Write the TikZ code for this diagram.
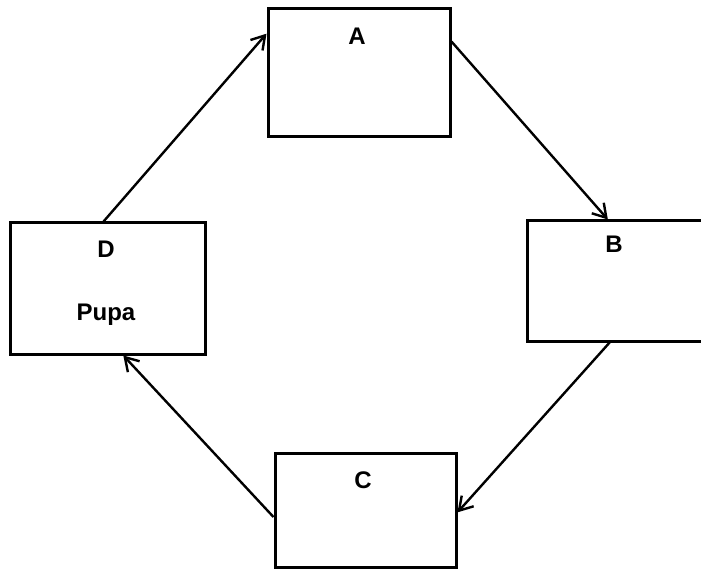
\documentclass[tikz,border=0pt]{standalone}
\usepackage{fontspec}
\setmainfont{Liberation Sans}
\usetikzlibrary{arrows.meta,calc}
\begin{document}
\begin{tikzpicture}[x=1pt,y=-1pt,
  stagebox/.style={draw=black,line width=3pt,rectangle,inner sep=0pt},
  lbl/.style={font=\fontsize{24}{26}\selectfont\bfseries,inner sep=0pt},
  flow/.style={draw=black,line width=2.4pt,-{Straight Barb[length=13pt,width=16pt,line width=2.4pt]}}]
\useasboundingbox (0,0) rectangle (701,569);
\clip (0,0) rectangle (701,569);
\node[stagebox,minimum width=182pt,minimum height=128pt] (A) at (359,73) {};
\node[stagebox,minimum width=176pt,minimum height=120pt] (B) at (615,281) {};
\node[stagebox,minimum width=181pt,minimum height=114pt] (C) at (365.5,510) {};
\node[stagebox,minimum width=195pt,minimum height=131pt] (D) at (107.5,288.5) {};
\node[lbl] (la) at (357,36) {A};
\node[lbl] (lb) at (614,244) {B};
\node[lbl] (lc) at (363,480) {C};
\node[lbl] (ld) at (106,249) {D};
\node[lbl,anchor=base] (lp) at (106,320) {Pupa};
\draw[flow] ($(D.north west)!0.48!(D.north east)$) -- ($(A.north west)!0.2!(A.south west)$);
\draw[flow] ($(A.north east)!0.26!(A.south east)$) -- ($(B.north west)!0.46!(B.north east)$);
\draw[flow] ($(B.south west)!0.47!(B.south east)$) -- ($(C.north east)!0.52!(C.south east)$);
\draw[flow] ($(C.north west)!0.56!(C.south west)$) -- ($(D.south west)!0.58!(D.south east)$);
\end{tikzpicture}
\end{document}
